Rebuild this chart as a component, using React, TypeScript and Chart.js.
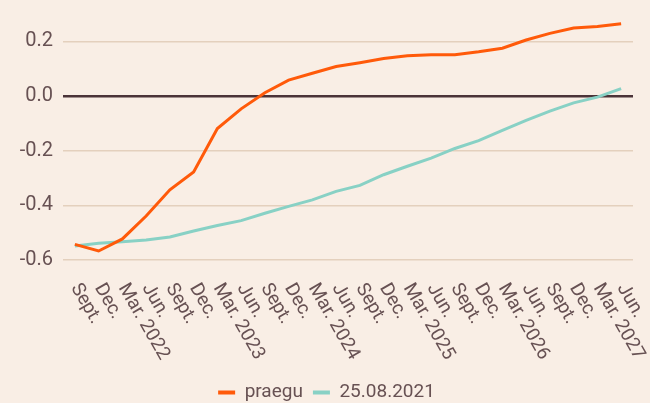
import React, { useEffect, useRef } from "react";
import { Chart, registerables } from "chart.js";

Chart.register(...registerables);

const categories = [
  "Sept.", "Dec.", "Mar. 2022", "Jun.", "Sept.", "Dec.", "Mar. 2023", "Jun.",
  "Sept.", "Dec.", "Mar. 2024", "Jun.", "Sept.", "Dec.", "Mar. 2025", "Jun.",
  "Sept.", "Dec.", "Mar. 2026", "Jun.", "Sept.", "Dec.", "Mar. 2027", "Jun.",
];

const praegu = [
  -0.543, -0.567, -0.523, -0.439, -0.343, -0.278, -0.119, -0.047,
  0.012, 0.058, 0.083, 0.108, 0.122, 0.137, 0.147, 0.151,
  0.151, 0.162, 0.175, 0.205, 0.229, 0.249, 0.254, 0.264,
];

const aug2021 = [
  -0.549, -0.539, -0.533, -0.527, -0.516, -0.494, -0.474, -0.456,
  -0.429, -0.404, -0.38, -0.349, -0.327, -0.288, -0.257, -0.227,
  -0.192, -0.163, -0.126, -0.089, -0.055, -0.025, -0.004, 0.027,
];

const yTickValues = [0.2, 0, -0.2, -0.4, -0.6];
const seriesNames = ["praegu", "25.08.2021"];

const BG = "#f9eee5";
const TEXT = "#675153";
const GRID = "#e4d0bd";
const ZERO = "#4b3338";
const ORANGE = "#ff5a0a";
const TEAL = "#88d1c5";

const xLabelPlugin = {
  id: "rotatedXLabels",
  afterDraw(chart: any) {
    const { ctx, chartArea, scales } = chart;
    const xs = scales.x;
    ctx.save();
    ctx.font = "19px Roboto";
    ctx.fillStyle = TEXT;
    ctx.textAlign = "left";
    ctx.textBaseline = "middle";
    categories.forEach((lab, i) => {
      const x = xs.getPixelForTick(i);
      ctx.save();
      ctx.translate(x, chartArea.bottom + 25);
      ctx.rotate((60 * Math.PI) / 180);
      ctx.fillText(lab, 0, 0);
      ctx.restore();
    });
    ctx.restore();
  },
};

export default function App() {
  const ref = useRef<HTMLCanvasElement | null>(null);

  useEffect(() => {
    if (!ref.current) return;
    const chart = new Chart(ref.current, {
      type: "line",
      data: {
        labels: categories,
        datasets: [
          {
            label: seriesNames[0],
            data: praegu,
            borderColor: ORANGE,
            backgroundColor: ORANGE,
            borderWidth: 3,
            pointRadius: 0,
            tension: 0,
          },
          {
            label: seriesNames[1],
            data: aug2021,
            borderColor: TEAL,
            backgroundColor: TEAL,
            borderWidth: 3,
            pointRadius: 0,
            tension: 0,
          },
        ],
      },
      options: {
        responsive: false,
        animation: false,
        layout: { padding: { top: 13, right: 17, left: 20, bottom: 0 } },
        scales: {
          x: {
            offset: true,
            grid: { display: false, drawTicks: false },
            border: { display: false },
            ticks: { display: false },
            afterFit: (s: any) => {
              s.height = 113;
            },
          },
          y: {
            min: -0.6,
            max: 0.3,
            afterBuildTicks: (s: any) => {
              s.ticks = yTickValues.map((v) => ({ value: v }));
            },
            afterFit: (s: any) => {
              s.width = 43;
            },
            border: { display: false },
            grid: {
              drawTicks: false,
              color: (c: any) => (c.tick && c.tick.value === 0 ? ZERO : GRID),
              lineWidth: (c: any) => (c.tick && c.tick.value === 0 ? 2.5 : 1.5),
            },
            ticks: {
              padding: 10,
              color: TEXT,
              font: { family: "Roboto", size: 20 },
              callback: (v: any) => Number(v).toFixed(1),
            },
          },
        },
        plugins: {
          title: { display: false },
          tooltip: { enabled: false },
          legend: {
            position: "bottom",
            labels: {
              color: TEXT,
              font: { family: "Roboto", size: 19 },
              boxWidth: 17,
              boxHeight: 4,
              padding: 10,
              generateLabels: (c: any) =>
                Chart.defaults.plugins.legend.labels
                  .generateLabels(c)
                  .map((l: any) => ({ ...l, lineWidth: 0 })),
            },
          },
        },
      },
      plugins: [xLabelPlugin],
    });
    return () => chart.destroy();
  }, []);

  return (
    <div
      style={{
        position: "fixed",
        left: 0,
        top: 0,
        width: 650,
        height: 403,
        overflow: "hidden",
        background: BG,
      }}
    >
      <canvas
        ref={ref}
        width={650}
        height={420}
        style={{ display: "block", marginTop: -8 }}
      />
    </div>
  );
}
